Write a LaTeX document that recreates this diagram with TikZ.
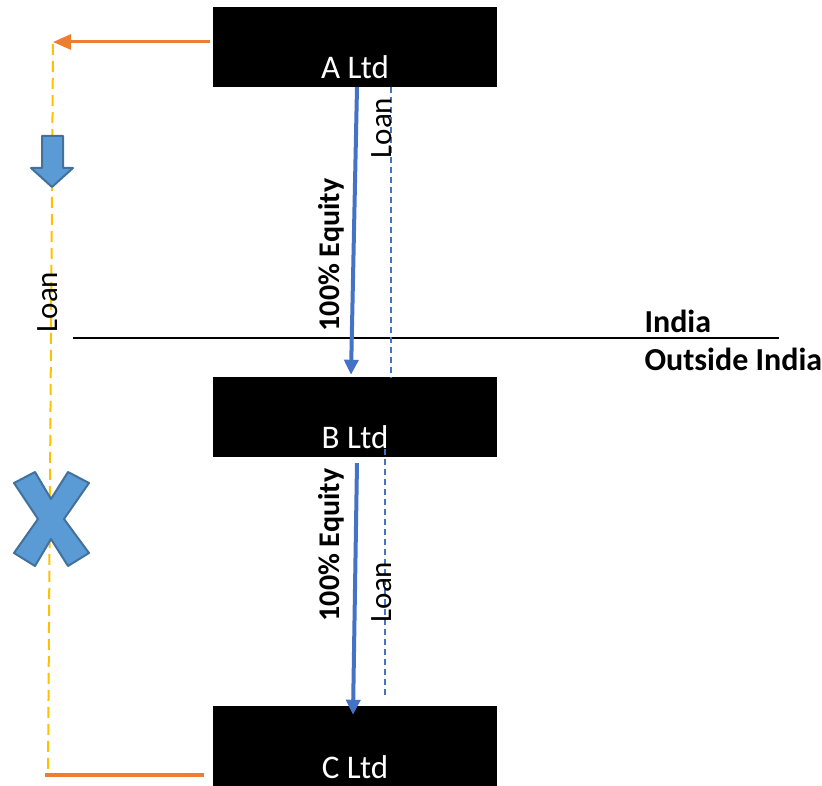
\documentclass[tikz,border=0pt]{standalone}
\usepackage{fontspec}
\setmainfont{Carlito}
\usetikzlibrary{arrows.meta, positioning}
\definecolor{eqblue}{HTML}{4472C4}
\definecolor{shapeblue}{HTML}{5B9BD5}
\definecolor{shapeedge}{HTML}{41719C}
\definecolor{flow}{HTML}{ED7D31}
\definecolor{gold}{HTML}{FFC000}

\begin{document}
\begin{tikzpicture}
  [x=1pt, y=-1pt,
   company/.style={fill=black, minimum width=284pt, minimum height=80pt, inner sep=0pt},
   cotext/.style={text=white, anchor=base, font=\fontsize{33}{38}\selectfont},
   equity/.style={eqblue, line width=4pt, -{Triangle[width=14pt, length=15pt]}},
   loan/.style={eqblue, line width=1.3pt, dash pattern=on 6pt off 4pt},
   vlabel/.style={rotate=90, font=\fontsize{31}{36}\selectfont},
   region/.style={anchor=west, font=\bfseries\fontsize{32}{37}\selectfont},
   sign/.style={fill=shapeblue, draw=shapeedge, line width=2pt, line join=round}]
  \useasboundingbox (0,0) rectangle (822,786);

  % offshore loan route, blocked
  \coordinate (tl) at (53,44);
  \coordinate (bl) at (48,772);
  \draw [gold, line width=2pt, dash pattern=on 11pt off 6pt] (tl) -- (bl);

  \node (A) at (355,47) [company] {};
  \node (B) at (355,417) [company] {};
  \node (C) at (355,746) [company] {};
  \node (Atext) at ([yshift=9]A.south) [cotext] {A Ltd};
  \node (Btext) at ([yshift=9]B.south) [cotext] {B Ltd};
  \node (Ctext) at ([yshift=8]C.south) [cotext] {C Ltd};

  \draw [flow, line width=3pt, -{Triangle[width=15pt, length=18pt]}]
    ([shift={(-3,-5)}]A.west) to ([yshift=2]tl);
  \draw [flow, line width=4pt] ([xshift=-9]C.west |- 0,775) to (45,775);

  \node (vloan) at (48,302) [vlabel] {Loan};
  \draw [sign] (42,136) -- (63,136) -- (63,168) -- (73,168) -- (52,187)
    -- (31,168) -- (42,168) -- cycle;
  \draw [sign] (14,483) -- (35,472) -- (51,499) -- (68,472) -- (89,483)
    -- (64,519) -- (89,553) -- (68,566) -- (51,539) -- (35,566)
    -- (14,553) -- (38,519) -- cycle;

  % border
  \coordinate (west) at (73,338);
  \coordinate (east) at (779,338);
  \draw [line width=1.5pt] (west) -- (east);
  \node (india) at (641,321) [region] {India};
  \node (abroad) at (641,359) [region] {Outside India};

  % A to B
  \draw [equity] ([xshift=2]A.south) to ([shift={(-4,-2)}]B.north);
  \draw [loan] ([xshift=36]A.south) to ([shift={(36,1)}]B.north);
  \node (eq1) at (331,255) [vlabel, font=\bfseries\fontsize{30}{35}\selectfont] {100\% Equity};
  \node (ln1) at (382,128) [vlabel] {Loan};

  % B to C
  \draw [equity] ([shift={(2,6)}]B.south) to ([shift={(-2,9)}]C.north);
  \draw [loan] ([shift={(30,-8)}]B.south) to ([shift={(30,-9)}]C.north);
  \node (eq2) at (331,545) [vlabel, font=\bfseries\fontsize{30}{35}\selectfont] {100\% Equity};
  \node (ln2) at (382,592) [vlabel] {Loan};
\end{tikzpicture}
\end{document}
